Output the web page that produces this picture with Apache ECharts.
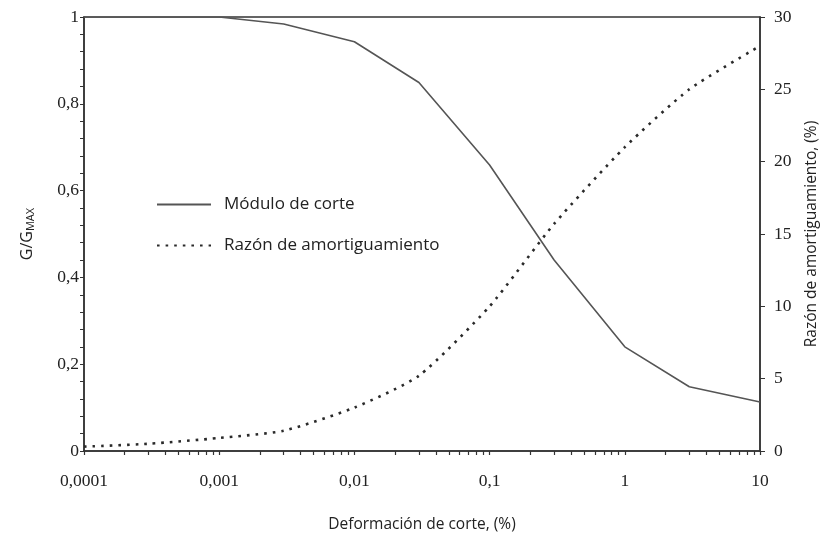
<!DOCTYPE html>
<html>
<head>
<meta charset="utf-8">
<script src="https://cdn.jsdelivr.net/npm/echarts@6/dist/echarts.min.js"></script>
<style>
html,body{margin:0;padding:0;background:#fff;}
#c{width:825px;height:533px;}
</style>
</head>
<body>
<div id="c"></div>
<script>
const strain = [0.0001, 0.0003, 0.001, 0.003, 0.01, 0.03, 0.1, 0.3, 1, 3, 10];
const modulus = [1, 1, 1, 0.984, 0.943, 0.849, 0.659, 0.44, 0.24, 0.148, 0.113];
const damping = [0.3, 0.5, 0.9, 1.4, 3.0, 5.2, 10, 15.7, 21, 25, 28];
const xTickLabels = ['0,0001', '0,001', '0,01', '0,1', '1', '10'];
const xMinorTicks = [];
[0.0001, 0.001, 0.01, 0.1, 1].forEach(function (d) {
  for (let k = 1; k <= 9; k++) xMinorTicks.push(+(d * k).toPrecision(3));
});
xMinorTicks.push(10);
const seriesNames = ['Módulo de corte', 'Razón de amortiguamiento'];

const labelFont = 'Liberation Serif';
const titleFont = 'Open Sans';
const axisColor = '#333';

const chart = echarts.init(document.getElementById('c'), null, {renderer: 'canvas'});
chart.setOption({
  animation: false,
  backgroundColor: '#fff',
  grid: {left: 84, right: 65, top: 17, bottom: 82, show: true, borderColor: axisColor, borderWidth: 1.5,
    containLabel: false, outerBoundsMode: 'none'},
  legend: {
    left: 151, top: 191, orient: 'vertical',
    itemWidth: 54, itemHeight: 14, itemGap: 24,
    data: seriesNames,
    itemStyle: {opacity: 0},
    textStyle: {fontFamily: titleFont, fontSize: 17, color: '#222', padding: [0, 0, 0, 8]}
  },
  xAxis: {
    type: 'log', logBase: 10, min: 0.0001, max: 10,
    name: 'Deformación de corte, (%)', nameLocation: 'middle', nameGap: 66,
    nameTextStyle: {fontFamily: titleFont, fontSize: 15.5, color: '#222'},
    axisLine: {lineStyle: {color: axisColor, width: 1.5}},
    axisTick: {show: true, inside: false, length: 4, customValues: xMinorTicks, lineStyle: {color: axisColor, width: 1.2}},
    minorTick: {show: false},
    splitLine: {show: false},
    axisLabel: {
      margin: 21, fontFamily: labelFont, fontSize: 17.5, color: '#222',
      formatter: function (v) { return xTickLabels[Math.round(Math.log10(v)) + 4]; }
    }
  },
  yAxis: [{
    type: 'value', min: 0, max: 1, interval: 0.2, position: 'left',
    name: '{a|G/G}{b|MAX}', nameLocation: 'middle', nameGap: 48,
    nameTextStyle: {rich: {
      a: {fontFamily: titleFont, fontSize: 16, color: '#222'},
      b: {fontFamily: titleFont, fontSize: 11, color: '#222', verticalAlign: 'bottom', padding: [6, 0, 0, 0]}
    }},
    axisLine: {show: true, lineStyle: {color: axisColor, width: 1.5}},
    axisTick: {show: true, length: 4, lineStyle: {color: axisColor}},
    minorTick: {show: true, splitNumber: 5, length: 4, lineStyle: {color: axisColor}},
    splitLine: {show: false},
    axisLabel: {margin: 5, fontFamily: labelFont, fontSize: 17.5, color: '#222',
      formatter: function (v) { return String(+v.toFixed(1)).replace('.', ','); }}
  }, {
    type: 'value', min: 0, max: 30, interval: 5, position: 'right',
    name: 'Razón de amortiguamiento, (%)', nameLocation: 'middle', nameGap: 44, nameRotate: 90,
    nameTextStyle: {fontFamily: titleFont, fontSize: 15.5, color: '#222'},
    axisLine: {show: true, lineStyle: {color: axisColor, width: 1.5}},
    axisTick: {show: true, length: 5, lineStyle: {color: axisColor}},
    splitLine: {show: false},
    axisLabel: {margin: 14, fontFamily: labelFont, fontSize: 17.5, color: '#222'}
  }],
  series: [{
    name: seriesNames[0], type: 'line', yAxisIndex: 0, symbol: 'none',
    data: strain.map(function (s, i) { return [s, modulus[i]]; }),
    lineStyle: {color: '#555', width: 1.6, type: 'solid'},
    itemStyle: {color: '#555'}
  }, {
    name: seriesNames[1], type: 'line', yAxisIndex: 1, symbol: 'none', smooth: 0.2,
    data: strain.map(function (s, i) { return [s, damping[i]]; }),
    lineStyle: {color: '#2a2a2a', width: 2.6, type: [2.6, 6]},
    itemStyle: {color: '#2a2a2a'}
  }]
});
</script>
</body>
</html>
